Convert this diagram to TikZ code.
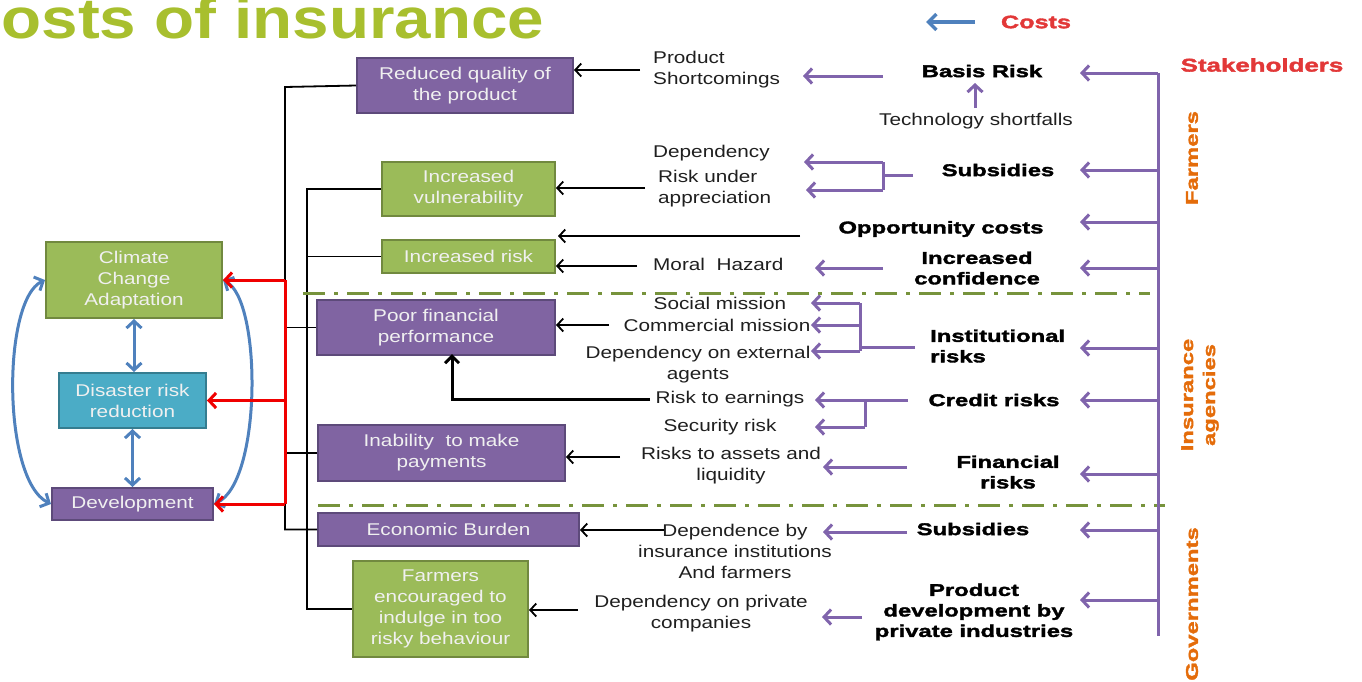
\documentclass[tikz,border=0pt]{standalone}
\usepackage{fontspec}
\setmainfont{Liberation Sans}[FakeStretch=1.22]
\newfontfamily\heavy{Liberation Sans}[FakeStretch=1.4,BoldFeatures={FakeBold=2}]
\newfontfamily\titlefont{Liberation Sans}[FakeStretch=1.15]
\usetikzlibrary{arrows.meta}
\definecolor{pfill}{RGB}{128,100,162}
\definecolor{pline}{RGB}{93,74,122}
\definecolor{gfill}{RGB}{155,187,89}
\definecolor{gline}{RGB}{113,137,63}
\definecolor{tfill}{RGB}{75,172,198}
\definecolor{tline}{RGB}{53,125,144}
\definecolor{blueA}{RGB}{79,129,189}
\definecolor{parrow}{RGB}{128,100,172}
\definecolor{redA}{RGB}{240,0,0}
\definecolor{sepgreen}{RGB}{119,147,60}
\definecolor{titlegreen}{RGB}{168,191,46}
\definecolor{costred}{RGB}{226,56,56}
\definecolor{stakeorange}{RGB}{228,108,10}
\begin{document}
\begin{tikzpicture}[x=1pt,y=-1pt,
  txt/.style={font=\fontsize{17}{21}\selectfont, inner sep=0pt, text=black!88},
  hv/.style={font=\heavy\bfseries\fontsize{17}{20.5}\selectfont, inner sep=0pt, text=black},
  boxbase/.style={draw, line width=2pt, inner sep=0pt, align=center, text=white!94!black, font=\fontsize{17}{21}\selectfont},
  pbox/.style={boxbase, fill=pfill, draw=pline},
  gbox/.style={boxbase, fill=gfill, draw=gline},
  tbox/.style={boxbase, fill=tfill, draw=tline},
  blk/.style={line width=1.8pt, draw=black},
  blkarr/.style={blk, -{Straight Barb[length=6pt,width=13pt]}},
  thickarr/.style={line width=3pt, draw=black, -{Straight Barb[length=7pt,width=14pt]}},
  redln/.style={line width=3pt, draw=redA},
  redarr/.style={redln, -{Straight Barb[length=7pt,width=15pt]}},
  bluearr/.style={line width=3pt, draw=blueA, {Straight Barb[length=7pt,width=15pt]}-{Straight Barb[length=7pt,width=15pt]}},
  bluesingle/.style={line width=3.5pt, draw=blueA, -{Straight Barb[length=8pt,width=16pt]}},
  pln/.style={line width=3pt, draw=parrow},
  parr/.style={pln, -{Straight Barb[length=7pt,width=15pt]}},
  sepline/.style={line width=3pt, draw=sepgreen, dash pattern=on 22pt off 9pt on 4pt off 9pt},
  stake/.style={font=\heavy\bfseries\fontsize{17}{22}\selectfont, text=stakeorange, inner sep=0pt, rotate=90, align=center}
]
\useasboundingbox (0,0) rectangle (1362,681);

% title (cut at top and left, as in the reference)
\node[anchor=base west, inner sep=0pt, text=titlegreen, font=\titlefont\bfseries\fontsize{57}{62}\selectfont] (title) at (-46,38) {Costs of insurance};

% left boxes
\node[gbox, minimum width=176, minimum height=76] (cca) at (134,280) {Climate\\Change\\Adaptation};
\node[tbox, minimum width=147, minimum height=55] (drr) at (132.5,400.5) {Disaster risk\\reduction};
\node[pbox, minimum width=161, minimum height=32] (dev) at (132.5,504) {Development};

% middle boxes
\node[pbox, minimum width=216, minimum height=55] (rq) at (465,85.5) {Reduced quality of\\the product};
\node[gbox, minimum width=173, minimum height=54] (iv) at (468.5,189) {Increased\\vulnerability};
\node[gbox, minimum width=173, minimum height=33] (ir) at (468.5,256.5) {Increased risk};
\node[pbox, minimum width=238, minimum height=55] (pf) at (436,327.5) {Poor financial\\performance};
\node[pbox, minimum width=247, minimum height=56] (im) at (441.5,453) {Inability\ \ to make\\payments};
\node[pbox, minimum width=261, minimum height=33] (eb) at (448.5,529.5) {Economic Burden};
\node[gbox, minimum width=175, minimum height=96] (fe) at (440.5,609) {Farmers\\encouraged to\\indulge in too\\risky behaviour};

% blue relations
\draw[bluearr] (cca.south) -- (cca.south |- drr.north);
\draw[bluearr] (drr.south) -- (drr.south |- dev.north);
\draw[bluearr] (dev.west) .. controls (2,480) and (2,300) .. (cca.west);
\draw[bluearr] (cca.east) .. controls (262,300) and (262,482) .. (dev.east);

% black tree
\coordinate (ta) at (285,87);
\coordinate (tb) at (285,529.5);
\coordinate (tc) at (307,189);
\coordinate (td) at (307,609);
\draw[blk] (rq.west) -- (ta) -- (tb) -- (eb.west);
\draw[blk] (pf.west) -- (pf.west -| ta);
\draw[blk] (im.west) -- (im.west -| ta);
\draw[blk] (iv.west) -- (tc) -- (td) -- (fe.west);
\draw[blk] (ir.west) -- (ir.west -| tc);

% red arrows
\coordinate (ra) at (285,280);
\coordinate (rb) at (285,504);
\draw[redln] (ra) -- (rb);
\draw[redarr] (ra) -- (cca.east);
\draw[redarr] (drr.east -| ra) -- (drr.east);
\draw[redarr] (rb) -- (dev.east);

% separators
\coordinate (sepA1) at (303,293);
\coordinate (sepA2) at (1150,293);
\coordinate (sepB1) at (318,505);
\coordinate (sepB2) at (1165,505);
\draw[sepline] (sepA1) -- (sepA2);
\draw[sepline] (sepB1) -- (sepB2);

% cause texts
\node[txt, align=left, anchor=west] (ps) at (653,69.5) {Product\\Shortcomings};
\node[txt, anchor=west] (dep) at (653,153) {Dependency};
\node[txt, align=left, anchor=west] (ru) at (658,188.5) {Risk under\\appreciation};
\node[txt, anchor=west] (mh) at (653,264) {Moral\ \ Hazard};
\node[txt] (sm) at (720,303) {Social mission};
\node[txt] (cm) at (717,325) {Commercial mission};
\node[txt, align=center] (de) at (698,364.5) {Dependency on external\\agents};
\node[txt] (re) at (730,399) {Risk to earnings};
\node[txt] (sr) at (720,427) {Security risk};
\node[txt, align=center] (rl) at (731,466) {Risks to assets and\\liquidity};
\node[txt, align=center] (dbi) at (735,551.5) {Dependence by\\insurance institutions\\And farmers};
\node[txt, align=center] (dpc) at (701,613.5) {Dependency on private\\companies};

% black arrows into boxes
\coordinate (s1) at (640,70);
\coordinate (s2) at (645,188);
\coordinate (s3) at (800,236);
\coordinate (s4) at (637,266);
\coordinate (s5) at (609,325);
\coordinate (s6) at (650,399);
\coordinate (k6) at (452,399);
\coordinate (s7) at (620,457);
\coordinate (s8) at (664,530);
\coordinate (s9) at (578,610);
\draw[blkarr] (s1) -- (s1 -| rq.east);
\draw[blkarr] (s2) -- (s2 -| iv.east);
\draw[blkarr] (s3) -- ([xshift=2pt]s3 -| ir.east);
\draw[blkarr] (s4) -- (s4 -| ir.east);
\draw[blkarr] (s5) -- (s5 -| pf.east);
\draw[thickarr] (s6) -- (k6) -- ([yshift=2pt]k6 |- pf.south);
\draw[blkarr] (s7) -- (s7 -| im.east);
\draw[blkarr] (s8) -- (s8 -| eb.east);
\draw[blkarr] (s9) -- (s9 -| fe.east);

% cost labels
\node[hv] (br) at (982,71) {Basis Risk};
\node[txt] (ts) at (976,121) {Technology shortfalls};
\node[hv] (sub1) at (998,170) {Subsidies};
\node[hv] (oc) at (941,229) {Opportunity costs};
\node[hv, align=center] (icf) at (977,268) {Increased\\confidence};
\node[hv, align=left, anchor=west] (inst) at (930,346) {Institutional\\risks};
\node[hv] (cr) at (994,400) {Credit risks};
\node[hv, align=center] (fr) at (1008,472) {Financial\\risks};
\node[hv] (sub2) at (973,529) {Subsidies};
\node[hv, align=center] (pd) at (974,612) {Product\\development by\\private industries};

% purple arrows cost -> cause
\coordinate (p1) at (883,76);  \coordinate (p1t) at (803,76);
\draw[parr] (p1) -- (p1t);
\coordinate (p2) at (975,108); \coordinate (p2t) at (975,83);
\draw[parr] (p2) -- (p2t);
\coordinate (sbA) at (913,175); \coordinate (sbB) at (883,175);
\coordinate (sb1) at (883,162); \coordinate (sb2) at (883,190);
\coordinate (sb1t) at (804,162); \coordinate (sb2t) at (806,190);
\draw[pln] (sbA) -- (sbB);
\draw[pln] (sb1) -- (sb2);
\draw[parr] (sb1) -- (sb1t);
\draw[parr] (sb2) -- (sb2t);
\coordinate (p3) at (883,268); \coordinate (p3t) at (815,268);
\draw[parr] (p3) -- (p3t);
\coordinate (inA) at (915,347); \coordinate (inB) at (860,347);
\coordinate (in1) at (860,303); \coordinate (in2) at (860,325); \coordinate (in3) at (860,351);
\coordinate (in1t) at (811,303); \coordinate (in2t) at (811,325); \coordinate (in3t) at (811,351);
\draw[pln] (inA) -- (inB);
\draw[pln] (in1) -- (in3);
\draw[parr] (in1) -- (in1t);
\draw[parr] (in2) -- (in2t);
\draw[parr] (in3) -- (in3t);
\coordinate (crA) at (908,400); \coordinate (crt) at (815,400);
\coordinate (cr1) at (865,400); \coordinate (cr2) at (865,427); \coordinate (cr2t) at (815,427);
\draw[parr] (crA) -- (crt);
\draw[pln] (cr1) -- (cr2);
\draw[parr] (cr2) -- (cr2t);
\coordinate (p4) at (907,467); \coordinate (p4t) at (823,467);
\draw[parr] (p4) -- (p4t);
\coordinate (p5) at (907,532); \coordinate (p5t) at (823,532);
\draw[parr] (p5) -- (p5t);
\coordinate (p6) at (862,617); \coordinate (p6t) at (822,617);
\draw[parr] (p6) -- (p6t);

% stakeholder spine
\coordinate (sa) at (1158,73);
\coordinate (sb) at (1158,636);
\draw[pln] (sa) -- (sb);
\foreach \yy [count=\i] in {73,170,222,268,348,400,474,530,600}{
  \coordinate (st\i) at (1158,\yy);
  \coordinate (sk\i) at (1080,\yy);
  \draw[parr] (st\i) -- (sk\i);
}

% legend
\coordinate (lg1) at (975,22); \coordinate (lg2) at (926,22);
\draw[bluesingle] (lg1) -- (lg2);
\node[font=\heavy\bfseries\fontsize{18}{20}\selectfont, text=costred, inner sep=0pt] (costs) at (1036,22) {Costs};
\node[font=\heavy\bfseries\fontsize{18.5}{20}\selectfont, text=costred, inner sep=0pt] (stk) at (1262,65) {Stakeholders};

% stakeholder groups
\node[stake] (farm) at (1192,158) {Farmers};
\node[stake] (ins) at (1200,395) {Insurance\\agencies};
\node[stake] (gov) at (1192,604) {Governments};
\end{tikzpicture}
\end{document}
